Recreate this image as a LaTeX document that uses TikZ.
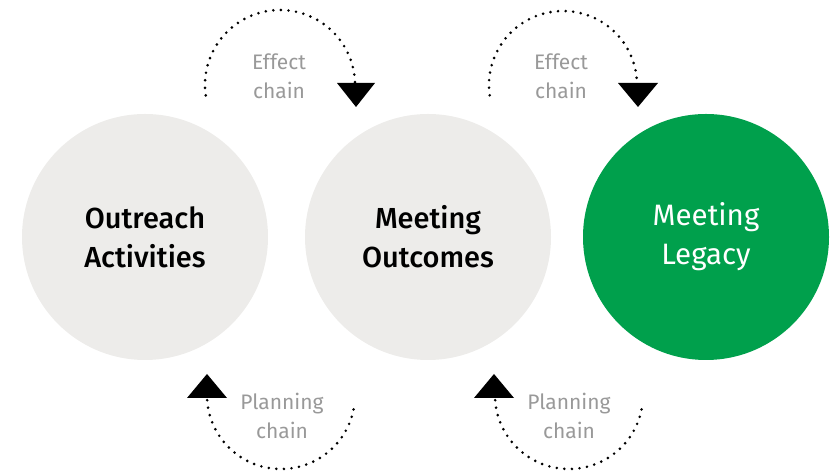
\documentclass[tikz,border=0pt]{standalone}
\usepackage{fontspec}
\setmainfont{Fira Sans}
\newfontfamily\medfont{Fira Sans Medium}
\usetikzlibrary{calc}
\begin{document}
\begin{tikzpicture}[x=1pt,y=1pt,
  ball/.style={circle, minimum size=246pt, inner sep=0pt, align=center,
    font=\fontsize{29}{39}\selectfont\medfont},
  greyball/.style={ball, fill=ballgrey, text=black},
  greenball/.style={ball, fill=ballgreen, text=white,
    font=\fontsize{29.5}{39}\selectfont},
  chainlabel/.style={align=center, text=labgrey, font=\fontsize{21}{29}\selectfont},
  dotarc/.style={line width=2.9pt, line cap=round, dash pattern=on 0pt off 7.6pt},
  tri/.style={fill=black}]
\definecolor{ballgrey}{RGB}{237,236,234}
\definecolor{ballgreen}{RGB}{0,160,76}
\definecolor{labgrey}{RGB}{153,153,153}
\useasboundingbox (0,0) rectangle (836,473);

\node[greyball] (oa) at (145,236) {Outreach\\Activities};
\node[greyball] (mo) at (428,236) {Meeting\\Outcomes};
\node[greenball] (ml) at (706,236) {Meeting\\Legacy};

% top effect chains
\coordinate (e1s) at ($(280,388)+(188:75)$);
\coordinate (e1t) at (356,366);
\draw[dotarc] (e1s) arc[start angle=188, end angle=0, radius=75];
\fill[tri] (e1t) -- ++(-19,24) -- ++(38,0) -- cycle;
\node[chainlabel] (el1) at (279,397) {Effect\\chain};

\coordinate (e2s) at ($(563,388)+(188:74)$);
\coordinate (e2t) at (638,366);
\draw[dotarc] (e2s) arc[start angle=188, end angle=0, radius=74];
\fill[tri] (e2t) -- ++(-20,24) -- ++(40,0) -- cycle;
\node[chainlabel] (el2) at (561,397) {Effect\\chain};

% bottom planning chains
\coordinate (p1s) at ($(281,78)+(184:74)$);
\coordinate (p1t) at (207,99);
\draw[dotarc] (p1s) arc[start angle=184, end angle=352, radius=74];
\fill[tri] (p1t) -- ++(-20,-24) -- ++(40,0) -- cycle;
\node[chainlabel] (pl1) at (282,57) {Planning\\chain};

\coordinate (p2s) at ($(569,78)+(184:74)$);
\coordinate (p2t) at (494,99);
\draw[dotarc] (p2s) arc[start angle=184, end angle=352, radius=74];
\fill[tri] (p2t) -- ++(-20,-24) -- ++(40,0) -- cycle;
\node[chainlabel] (pl2) at (569,57) {Planning\\chain};
\end{tikzpicture}
\end{document}
